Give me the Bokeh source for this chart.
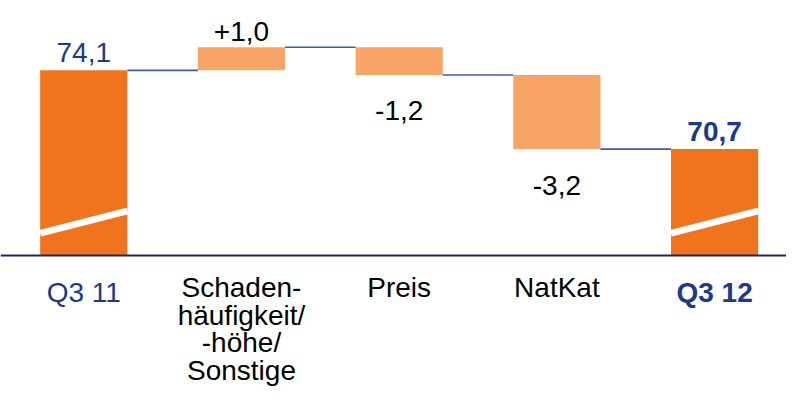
from bokeh.plotting import figure
from bokeh.models import Range1d, ColumnDataSource, Span
from bokeh.core.properties import value
from bokeh.embed import file_html
from bokeh.resources import INLINE

# ---- data ----
categories = ["Q3 11", "Schaden-\nhäufigkeit/\n-höhe/\nSonstige", "Preis", "NatKat", "Q3 12"]
kinds = ["total", "delta", "delta", "delta", "total"]
values = [74.1, 1.0, -1.2, -3.2, 70.7]
value_labels = ["74,1", "+1,0", "-1,2", "-3,2", "70,7"]
axis_base = 66.1  # value at the (broken) category axis

# ---- styling ----
FONT = "Liberation Sans"
FS = "28px"
DARK_ORANGE = "#F0731E"
LIGHT_ORANGE = "#F7A466"
BLUE_TEXT = "#1B3A8C"
CONNECTOR = "#3F5DA6"
AXIS_COLOR = "#1E2A5C"
BAR_W = 0.553

xs = [i + 0.5 for i in range(len(categories))]

# waterfall geometry from values
bottoms, tops, colors, running = [], [], [], []
level = None
for k, v in zip(kinds, values):
    if k == "total":
        bottoms.append(axis_base)
        tops.append(v)
        colors.append(DARK_ORANGE)
        level = v
    else:
        new = level + v
        bottoms.append(min(level, new))
        tops.append(max(level, new))
        colors.append(LIGHT_ORANGE)
        level = new
    running.append(level)

p = figure(width=786, height=388,
           x_range=Range1d(-0.028, 4.956), y_range=Range1d(60.358, 77.118),
           x_axis_type=None, y_axis_type=None,
           toolbar_location=None, output_backend="svg", min_border=0)
p.grid.visible = False
p.outline_line_color = None
p.background_fill_color = "white"
p.border_fill_color = "white"

src = ColumnDataSource(dict(x=xs, bottom=bottoms, top=tops, color=colors))
p.vbar(x="x", width=BAR_W, bottom="bottom", top="top", fill_color="color",
       line_color=None, source=src)

# axis-break marks on total bars
bx0, by0, bx1, by1 = [], [], [], []
for x, k in zip(xs, kinds):
    if k == "total":
        bx0.append(x - BAR_W / 2)
        bx1.append(x + BAR_W / 2)
        by0.append(axis_base + 0.96)
        by1.append(axis_base + 1.93)
p.segment(x0=bx0, y0=by0, x1=bx1, y1=by1, line_color="white", line_width=6.7,
          line_cap="butt")

# connectors
cx0, cx1, cy = [], [], []
for i in range(len(xs) - 1):
    cx0.append(xs[i] + BAR_W / 2)
    cx1.append(xs[i + 1] - BAR_W / 2)
    cy.append(running[i])
p.segment(x0=cx0, y0=cy, x1=cx1, y1=cy, line_color=CONNECTOR, line_width=1.6)

# axis line
p.add_layout(Span(location=axis_base, dimension="width", line_color=AXIS_COLOR,
                  line_width=2))

# value labels
for i, (k, v, lab) in enumerate(zip(kinds, values, value_labels)):
    if k == "total":
        p.text(x=[xs[i]], y=[tops[i]], text=[lab], y_offset=-18,
               text_align="center", text_baseline="alphabetic",
               text_font=value(FONT), text_font_size=FS,
               text_color=BLUE_TEXT,
               text_font_style="bold" if i == len(xs) - 1 else "normal")
    elif v >= 0:
        p.text(x=[xs[i]], y=[tops[i]], text=[lab], y_offset=-16,
               text_align="center", text_baseline="alphabetic",
               text_font=value(FONT), text_font_size=FS, text_color="black")
    else:
        p.text(x=[xs[i]], y=[bottoms[i]], text=[lab], y_offset=36,
               text_align="center", text_baseline="alphabetic",
               text_font=value(FONT), text_font_size=FS, text_color="black")

# category labels
LINE_H = 27.5
for i, (k, cat) in enumerate(zip(kinds, categories)):
    lines = cat.split("\n")
    base_off = 37 if k == "total" else 32
    if k == "total":
        color = BLUE_TEXT
        style = "bold" if i == len(xs) - 1 else "normal"
    else:
        color = "black"
        style = "normal"
    p.text(x=[xs[i]] * len(lines), y=[axis_base] * len(lines), text=lines,
           y_offset=[base_off + j * LINE_H for j in range(len(lines))],
           text_align="center", text_baseline="alphabetic",
           text_font=value(FONT), text_font_size=FS, text_color=color,
           text_font_style=style)

open("out.html", "w").write(file_html(p, INLINE))
